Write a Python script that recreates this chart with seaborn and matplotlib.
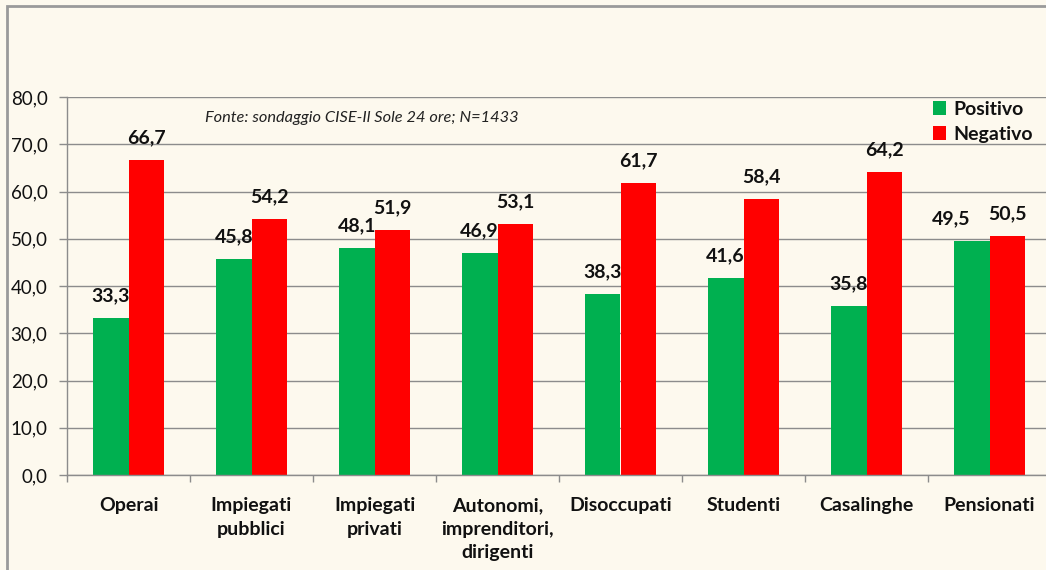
import pandas as pd
import numpy as np
import matplotlib
matplotlib.use("Agg")
import matplotlib.pyplot as plt
import seaborn as sns
from matplotlib.patches import Rectangle
from matplotlib.ticker import FuncFormatter, FixedLocator

# ==========================================
# Data
# ==========================================
categories = ["Operai", "Impiegati\npubblici", "Impiegati\nprivati",
              "Autonomi,\nimprenditori,\ndirigenti", "Disoccupati",
              "Studenti", "Casalinghe", "Pensionati"]
positivo = [33.3, 45.8, 48.1, 46.9, 38.3, 41.6, 35.8, 49.5]
negativo = [66.7, 54.2, 51.9, 53.1, 61.7, 58.4, 64.2, 50.5]
series_names = ["Positivo", "Negativo"]
source_note = "Fonte: sondaggio CISE-Il Sole 24 ore; N=1433"

df = pd.DataFrame({
    "Categoria": categories * 2,
    "Serie": [series_names[0]] * len(categories) + [series_names[1]] * len(categories),
    "Valore": positivo + negativo,
})

# ==========================================
# Style
# ==========================================
sns.set_theme(style="white")
plt.rcParams['font.family'] = ['Lato', 'DejaVu Sans']
bg = "#FDF9EE"
grid_col = "#8C8C8C"
palette = {"Positivo": "#00B050", "Negativo": "#FF0000"}

fig = plt.figure(figsize=(10.46, 5.70), dpi=100, facecolor=bg)
ax = fig.add_axes([67 / 1046, 95 / 570, 984 / 1046, 378 / 570])
ax.set_facecolor(bg)

sns.barplot(data=df, x="Categoria", y="Valore", hue="Serie", palette=palette,
            width=0.58, saturation=1, linewidth=0, ax=ax, legend=True)

ax.set_ylim(0, 80)
ax.set_xlim(-0.5, len(categories) - 0.5)
ax.set_yticks(np.arange(0, 81, 10))
ax.yaxis.set_major_formatter(FuncFormatter(lambda v, p: f"{v:.1f}".replace(".", ",")))
ax.grid(axis="y", color=grid_col, linewidth=1)
ax.set_axisbelow(True)
ax.set_xlabel("")
ax.set_ylabel("")

for s in ["top", "right"]:
    ax.spines[s].set_visible(False)
for s in ["left", "bottom"]:
    ax.spines[s].set_color(grid_col)
    ax.spines[s].set_linewidth(1)

ax.tick_params(axis="y", which="major", left=True, length=6, width=1, color=grid_col,
               labelsize=13.5, pad=8, labelcolor="#111111")
# x ticks between categories
ax.xaxis.set_major_locator(FixedLocator(np.arange(len(categories))))
ax.xaxis.set_minor_locator(FixedLocator(np.arange(-0.5, len(categories), 1.0)))
ax.tick_params(axis="x", which="major", bottom=False, labelsize=14, pad=10,
               labelcolor="#111111")
ax.tick_params(axis="x", which="minor", bottom=True, length=5, width=1, color=grid_col)
for lbl in ax.get_xticklabels():
    lbl.set_fontweight("bold")
    lbl.set_linespacing(1.45)
    lbl.set_verticalalignment("top")

# value labels
n = len(categories)
pos_bars = ax.patches[:n]
neg_bars = ax.patches[n:2 * n]
for i in range(n):
    for bar, val, other in [(pos_bars[i], positivo[i], negativo[i]),
                            (neg_bars[i], negativo[i], positivo[i])]:
        x = bar.get_x() + bar.get_width() / 2
        dx = 0
        if abs(val - other) < 3 and val < other:
            dx = -15
        ax.annotate(f"{val:.1f}".replace(".", ","), (x, val), xytext=(dx, 16),
                    textcoords="offset points", ha="center", va="center",
                    fontsize=14, fontweight="bold", color="#111111")

# legend
handles, labels = ax.get_legend_handles_labels()
leg = ax.legend(handles, labels, loc="upper left", bbox_to_anchor=(0.872, 1.01),
                frameon=False, fontsize=14, handlelength=0.7, handleheight=0.7,
                handletextpad=0.35, labelspacing=0.4, borderaxespad=0)
for t in leg.get_texts():
    t.set_fontweight("bold")
    t.set_color("#111111")

ax.text(0.14, 0.944, source_note, transform=ax.transAxes, fontsize=11.8,
        style="italic", ha="left", va="center", color="#222222")

# outer chart border
fig.patches.append(Rectangle((7 / 1046, -0.1), 1.2, (570 - 6) / 570 + 0.1,
                             transform=fig.transFigure, fill=False,
                             edgecolor="#9A9A9A", linewidth=2, zorder=10))

fig.savefig("out.png", dpi=100, facecolor=bg)
